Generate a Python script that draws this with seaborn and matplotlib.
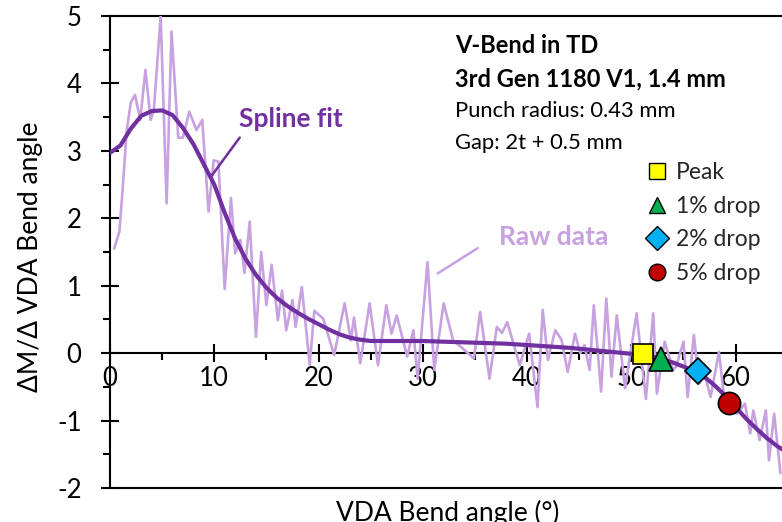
import matplotlib
matplotlib.use("Agg")
import matplotlib.pyplot as plt
import matplotlib.lines as mlines
from matplotlib.ticker import MultipleLocator
import pandas as pd
import seaborn as sns

# raw dM/d(angle) trace
RAW_X = [0.4, 0.9, 1.2, 1.6, 2.0, 2.4, 2.9, 3.4, 3.9, 4.2, 4.86, 5.43, 5.9, 6.55, 7.0,
         7.6, 8.3, 8.85, 9.45, 9.95, 10.4, 11.0, 11.6, 12.0, 12.5, 12.9, 13.4, 14.0,
         14.5, 15.0, 15.5, 16.1, 16.5, 16.9, 17.5, 17.8, 18.4, 19.15, 19.6, 20.45,
         21.5, 22.5, 23.1, 23.4, 24.0, 24.9, 25.7, 26.5, 27.0, 27.5, 28.5, 29.1, 29.5,
         30.45, 31.1, 32.0, 32.9, 33.6, 34.9, 35.5, 36.4, 37.1, 37.6, 38.1, 39.3,
         40.2, 41.0, 41.5, 42.0, 42.7, 43.3, 43.9, 44.6, 45.1, 45.5, 46.0, 46.4,
         47.1, 47.6, 48.1, 48.6, 49.4, 50.5, 51.4, 52.1, 52.45, 53.2, 54.0, 54.3,
         55.0, 55.4, 56.0, 56.5, 57.0, 57.6, 58.4, 59.0, 59.6, 60.1, 60.9, 61.4,
         61.7, 62.3, 62.9, 63.2, 63.7, 64.3]
RAW_Y = [1.55, 1.8, 2.4, 3.3, 3.72, 3.83, 3.46, 4.2, 3.46, 3.6, 5.0, 2.22, 4.77, 3.19, 3.2,
         3.58, 3.31, 3.46, 2.1, 2.86, 2.84, 0.95, 2.3, 1.48, 1.68, 1.19, 1.95, 0.24,
         1.5, 0.71, 1.31, 0.49, 0.93, 0.34, 0.79, 0.39, 0.98, -0.17, 0.63, 0.51,
         -0.03, 0.74, 0.19, 0.53, -0.15, 0.74, -0.18, 0.71, 0.29, 0.56, -0.05, 0.34, -0.38,
         1.35, -0.25, 0.74, 0.19, 0.1, -0.08, 0.61, -0.38, 0.39, 0.3, 0.46, -0.18,
         0.29, -0.8, 0.64, -0.1, 0.34, 0.2, -0.28, 0.29, 0.0, 0.12, -0.25, 0.71,
         -0.57, 0.81, -0.35, 0.56, -0.52, 0.59, -0.68, 0.59, -0.6, 0.17, -0.25, -0.2,
         0.17, -0.65, 0.27, -0.45, -0.3, -0.65, 0.02, -0.8, -0.6, -0.9, -0.75, -1.19,
         -0.85, -1.29, -0.85, -1.59, -0.9, -1.78]

# smooth spline fit
FIT_X = [0, 1, 2, 3, 4, 5, 6, 7, 8, 9, 10, 11, 12, 13, 14, 15, 16, 17, 18, 19, 20,
         21, 22, 23, 24, 25, 26, 28, 30, 32, 34, 36, 38, 40, 42, 44, 46, 48, 50, 51,
         52, 53, 54, 55, 56, 57, 58, 59, 60, 61, 62, 63, 64, 64.5]
FIT_Y = [2.97, 3.08, 3.33, 3.52, 3.59, 3.6, 3.53, 3.34, 3.1, 2.8, 2.5, 2.08, 1.7, 1.4,
         1.16, 0.97, 0.82, 0.7, 0.6, 0.51, 0.43, 0.35, 0.28, 0.23, 0.2, 0.18, 0.18, 0.18,
         0.18, 0.17, 0.16, 0.15, 0.14, 0.12, 0.1, 0.08, 0.05, 0.02, -0.01, -0.03,
         -0.05, -0.09, -0.14, -0.2, -0.26, -0.35, -0.48, -0.63, -0.8, -0.97, -1.12,
         -1.26, -1.38, -1.43]

# drop points
KEY_LABELS = ["Peak", "1% drop", "2% drop", "5% drop"]
KEY_X = [51.1, 52.8, 56.4, 59.4]
KEY_Y = [-0.02, -0.08, -0.27, -0.74]
KEY_MARKERS = ["s", "^", "D", "o"]
KEY_COLORS = ["#FFFF00", "#00B050", "#00B0F0", "#C00000"]

INFO_LINES = ["V-Bend in TD", "3rd Gen 1180 V1, 1.4 mm",
              "Punch radius: 0.43 mm", "Gap: 2t + 0.5 mm"]

FIT_COLOR = "#7030A0"
RAW_COLOR = "#C8A2E0"
FONT = ["Lato", "DejaVu Sans"]


def main() -> None:
    sns.set_theme(style="white")
    plt.rcParams["font.family"] = FONT
    plt.rcParams["axes.unicode_minus"] = False

    raw = pd.DataFrame({"angle": RAW_X, "deriv": RAW_Y})
    fit = pd.DataFrame({"angle": FIT_X, "deriv": FIT_Y})

    fig = plt.figure(figsize=(7.82, 5.22), dpi=100)
    ax = fig.add_axes([110 / 782, 34 / 522, 1 - 110 / 782, 472 / 522])

    sns.lineplot(data=raw, x="angle", y="deriv", color=RAW_COLOR, linewidth=1.9,
                 sort=False, ax=ax, zorder=3)
    sns.lineplot(data=fit, x="angle", y="deriv", color=FIT_COLOR, linewidth=3.0,
                 sort=False, ax=ax, zorder=4)

    sizes = [15, 17, 13, 16]
    for x, y, m, c, s in zip(KEY_X, KEY_Y, KEY_MARKERS, KEY_COLORS, sizes):
        ax.plot([x], [y], marker=m, markersize=s, markerfacecolor=c,
                markeredgecolor="black", markeredgewidth=1.2, linestyle="none",
                zorder=5)

    ax.set_xlim(0, 64.45)
    ax.set_ylim(-2, 5)
    ax.set_xlabel("")
    ax.set_ylabel("ΔM/Δ VDA Bend angle", fontsize=19, color="black")
    ax.yaxis.set_label_coords(-0.1, 0.49)

    # axes: x axis crosses at y=0, boxed top/bottom
    ax.spines["bottom"].set_position(("data", 0))
    ax.spines["right"].set_visible(False)
    for sp in ("left", "top", "bottom"):
        ax.spines[sp].set_color("black")
        ax.spines[sp].set_linewidth(1.5)
    ax.axhline(-2, color="black", linewidth=1.5, clip_on=False, zorder=2.5)

    ax.xaxis.set_major_locator(MultipleLocator(10))
    ax.xaxis.set_minor_locator(MultipleLocator(5))
    ax.yaxis.set_major_locator(MultipleLocator(1))
    ax.yaxis.set_minor_locator(MultipleLocator(0.5))
    ax.tick_params(axis="both", which="major", direction="inout", length=13,
                   width=1.5, color="black", labelsize=18.5, labelcolor="black")
    ax.tick_params(axis="both", which="minor", direction="out", length=5,
                   width=1.5, color="black")
    ax.tick_params(axis="x", which="major", pad=3)
    ax.tick_params(axis="y", which="major", pad=14)
    ax.tick_params(axis="both", which="both", bottom=True, left=True)

    # info block
    rows_y = [4.56, 4.07, 3.59, 3.12]
    for i, (txt, yy) in enumerate(zip(INFO_LINES, rows_y)):
        bold = i < 2
        ax.text(33.1, yy, txt, fontsize=17 if bold else 15.8, va="center",
                ha="left", color="black", fontweight="bold" if bold else "normal")

    # curve annotations
    ax.text(17.35, 3.47, "Spline fit", fontsize=19, fontweight="bold",
            color=FIT_COLOR, ha="center", va="center")
    ax.annotate("", xy=(9.6, 2.6), xytext=(12.6, 3.23),
                arrowprops=dict(arrowstyle="-", color=FIT_COLOR, lw=1.8))
    ax.text(42.6, 1.72, "Raw data", fontsize=19, fontweight="bold",
            color=RAW_COLOR, ha="center", va="center")
    ax.annotate("", xy=(31.2, 1.16), xytext=(35.5, 1.58),
                arrowprops=dict(arrowstyle="-", color=RAW_COLOR, lw=1.8))

    handles = [
        mlines.Line2D([], [], marker=m, markersize=12, markerfacecolor=c,
                      markeredgecolor="black", markeredgewidth=1.0,
                      linestyle="none", label=lab)
        for m, c, lab in zip(KEY_MARKERS, KEY_COLORS, KEY_LABELS)
    ]
    ax.legend(handles=handles, loc="upper left",
              bbox_to_anchor=((648 - 110) / 672, 1 - (162 - 16) / 472),
              frameon=False, fontsize=16.5, handlelength=0.8, handletextpad=0.4,
              labelspacing=0.55, borderpad=0.0, borderaxespad=0.0)

    # x label sits partly below the figure edge, as in the source image
    fig.text(448 / 782, 1 - 500 / 522, "VDA Bend angle (°)", fontsize=19,
             ha="center", va="top", color="black")

    fig.savefig("out.png", dpi=100)
    plt.close(fig)


if __name__ == "__main__":
    main()
